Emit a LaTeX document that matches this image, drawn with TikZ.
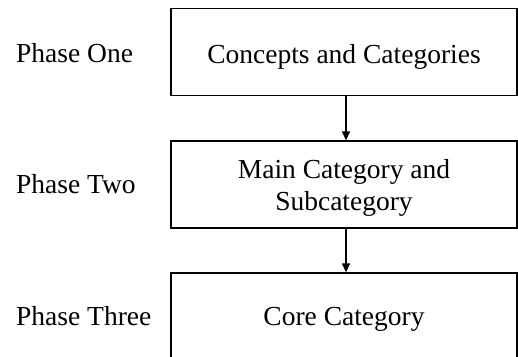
\documentclass[tikz,border=0pt]{standalone}
\usepackage{fontspec}
\setmainfont{Liberation Serif}
\usetikzlibrary{arrows.meta}
\begin{document}
\begin{tikzpicture}[x=1pt,y=-1pt,
  stagebox/.style={draw, line width=1.3pt, minimum width=346pt, minimum height=87pt, inner sep=0pt},
  lbl/.style={font=\fontsize{27.5}{32}\selectfont, inner sep=0pt},
  conn/.style={-{Triangle[length=9pt,width=8pt]}, line width=1.3pt}]
\useasboundingbox (0,0) rectangle (518,356);
\clip (0,0) rectangle (518,356);
\node[stagebox] (b1) at (344,52) {};
\node[stagebox] (b2) at (344,184.5) {};
\node[stagebox] (b3) at (344,316.5) {};
\node[lbl, anchor=base] (t1) at (344,63) {Concepts and Categories};
\node[lbl, anchor=base, align=center] (t2) at (344,210) {Main Category and\\Subcategory};
\node[lbl, anchor=base] (t3) at (344,325) {Core Category};
\node[lbl, anchor=base west] (p1) at (16,62) {Phase One};
\node[lbl, anchor=base west] (p2) at (16,193) {Phase Two};
\node[lbl, anchor=base west] (p3) at (16,325) {Phase Three};
\draw[conn] ([xshift=2pt]b1.south) -- ([xshift=2pt]b2.north);
\draw[conn] ([xshift=2pt]b2.south) -- ([xshift=2pt]b3.north);
\end{tikzpicture}
\end{document}
